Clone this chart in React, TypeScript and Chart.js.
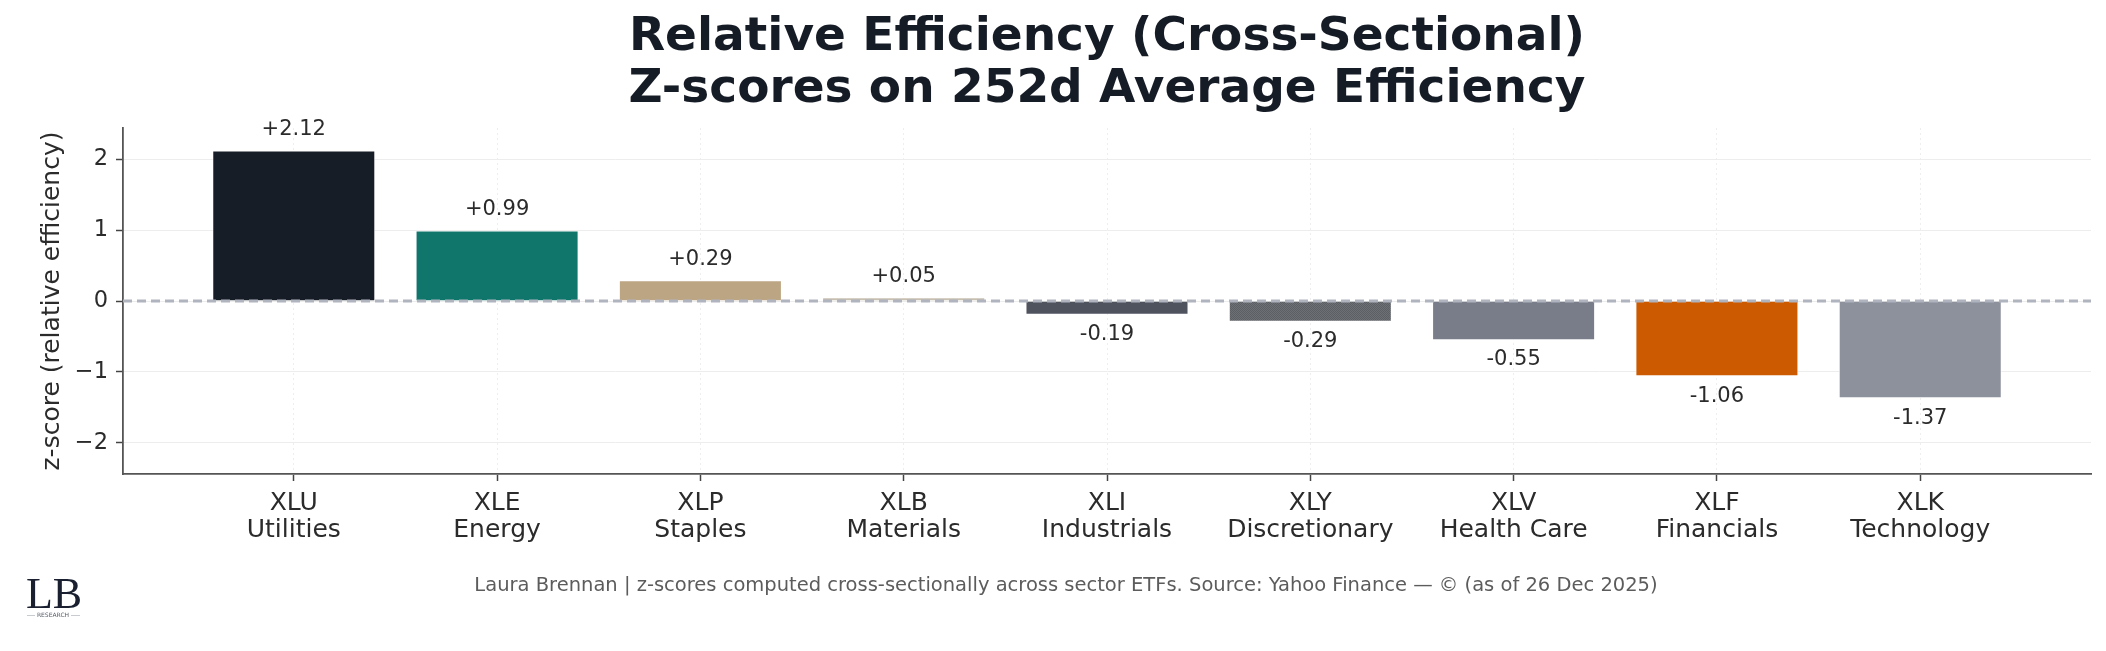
import { useEffect, useRef } from "react";
import { Chart, registerables } from "chart.js";

Chart.register(...registerables);

const tickers = ["XLU", "XLE", "XLP", "XLB", "XLI", "XLY", "XLV", "XLF", "XLK"];
const sectors = [
  "Utilities",
  "Energy",
  "Staples",
  "Materials",
  "Industrials",
  "Discretionary",
  "Health Care",
  "Financials",
  "Technology",
];
const zScores = [2.12, 0.99, 0.29, 0.05, -0.19, -0.29, -0.55, -1.06, -1.37];
const barColors = [
  "#171d26",
  "#10766c",
  "#bca582",
  "#c7bfb0",
  "#4f535e",
  "#67696f",
  "#797d89",
  "#cc5a00",
  "#8d919c",
];
const yTickValues = [-2, -1, 0, 1, 2];
const yLimit = 2.44;
const xPad = 0.84;

const titleLines = [
  "Relative Efficiency (Cross-Sectional)",
  "Z-scores on 252d Average Efficiency",
];
const yAxisTitle = "z-score (relative efficiency)";
const footerText =
  "Laura Brennan | z-scores computed cross-sectionally across sector ETFs. Source: Yahoo Finance \u2014 \u00a9 (as of 26 Dec 2025)";

const W = 2106;
const H = 651;

function makeStipple(): CanvasPattern | string {
  const c = document.createElement("canvas");
  c.width = 2;
  c.height = 2;
  const g = c.getContext("2d");
  if (!g) return "#67696f";
  g.fillStyle = "#6d7075";
  g.fillRect(0, 0, 2, 2);
  g.fillStyle = "#5c5f64";
  g.fillRect(0, 0, 1, 1);
  g.fillRect(1, 1, 1, 1);
  const p = g.createPattern(c, "repeat");
  return p || "#67696f";
}

const overlayPlugin = {
  id: "overlay",
  afterDatasetsDraw(chart: any) {
    const { ctx, chartArea, scales } = chart;
    const y0 = scales.y.getPixelForValue(0);
    ctx.save();
    ctx.strokeStyle = "#b0b4bf";
    ctx.lineWidth = 3;
    ctx.setLineDash([9, 5]);
    ctx.beginPath();
    ctx.moveTo(chartArea.left, y0);
    ctx.lineTo(chartArea.right, y0);
    ctx.stroke();
    ctx.setLineDash([]);

    const meta = chart.getDatasetMeta(0);
    ctx.font = '21px "DejaVu Sans"';
    ctx.fillStyle = "#2b2b2b";
    ctx.textAlign = "center";
    ctx.textBaseline = "middle";
    meta.data.forEach((bar: any, i: number) => {
      const v = zScores[i];
      const txt = (v >= 0 ? "+" : "-") + Math.abs(v).toFixed(2);
      const ty = v >= 0 ? bar.y - 21 : bar.y + 20;
      ctx.fillText(txt, bar.x, ty);
    });
    ctx.restore();
  },
  afterDraw(chart: any) {
    const { ctx, chartArea } = chart;
    ctx.save();
    const cx = (chartArea.left + chartArea.right) / 2;
    ctx.fillStyle = "#161c26";
    ctx.textAlign = "center";
    ctx.textBaseline = "alphabetic";
    ctx.font = 'bold 47px "DejaVu Sans"';
    ctx.fillText(titleLines[0], cx, 50);
    ctx.fillText(titleLines[1], cx, 102);

    ctx.font = '19.5px "DejaVu Sans"';
    ctx.fillStyle = "#5c5c5c";
    ctx.textBaseline = "middle";
    ctx.fillText(footerText, 1066, 586);

    // logo
    ctx.fillStyle = "#1a2030";
    ctx.textAlign = "center";
    ctx.textBaseline = "alphabetic";
    ctx.font = '44px "Liberation Serif"';
    ctx.fillText("LB", 54, 608);
    ctx.font = '6px "DejaVu Sans"';
    ctx.fillStyle = "#555b66";
    ctx.textBaseline = "middle";
    ctx.fillText("RESEARCH", 53, 615.5);
    ctx.strokeStyle = "#c8cbd0";
    ctx.lineWidth = 1;
    ctx.beginPath();
    ctx.moveTo(27, 615.5);
    ctx.lineTo(35, 615.5);
    ctx.moveTo(71, 615.5);
    ctx.lineTo(80, 615.5);
    ctx.stroke();
    ctx.restore();
  },
};

export default function App() {
  const ref = useRef<HTMLCanvasElement | null>(null);

  useEffect(() => {
    document.body.style.margin = "0";
    document.body.style.overflow = "hidden";
    const canvas = ref.current;
    if (!canvas) return;
    const colors = barColors.map((c, i) => (i === 5 ? makeStipple() : c));
    const chart = new Chart(canvas, {
      type: "bar",
      data: {
        datasets: [
          {
            data: zScores.map((v, i) => ({ x: i, y: v })),
            backgroundColor: colors as any,
            borderColor: "#ffffff",
            borderWidth: 0.8,
            barPercentage: 0.8,
            categoryPercentage: 1,
          },
        ],
      },
      options: {
        responsive: false,
        animation: false,
        devicePixelRatio: 1,
        layout: { padding: { top: 128, left: 0, right: 15, bottom: 0 } },
        plugins: {
          legend: { display: false },
          tooltip: { enabled: false },
          title: { display: false },
        },
        scales: {
          x: {
            type: "linear",
            min: -xPad,
            max: tickers.length - 1 + xPad,
            offset: false,
            afterBuildTicks: (s: any) => {
              s.ticks = tickers.map((_, i) => ({ value: i }));
            },
            afterFit: (s: any) => {
              s.height = 177;
            },
            grid: {
              offset: false,
              color: "#eeeeee",
              lineWidth: 1,
              tickColor: "#444",
              tickLength: 7,
              tickWidth: 1.5,
              tickBorderDash: [],
            },
            border: { display: true, color: "#555", width: 1.8, dash: [2, 3] },
            ticks: {
              autoSkip: false,
              maxRotation: 0,
              minRotation: 0,
              padding: 9,
              color: "#2b2b2b",
              font: { family: '"DejaVu Sans"', size: 25, lineHeight: 1.08 },
              callback: (v: any) => [tickers[v], sectors[v]],
            },
          },
          y: {
            min: -yLimit,
            max: yLimit,
            afterBuildTicks: (s: any) => {
              s.ticks = yTickValues.map((v) => ({ value: v }));
            },
            afterFit: (s: any) => {
              s.width = 123;
            },
            grid: {
              color: "#ededed",
              lineWidth: 1,
              tickColor: "#444",
              tickLength: 7,
              tickWidth: 1.5,
            },
            border: { display: true, color: "#555", width: 1.8 },
            ticks: {
              padding: 8,
              color: "#2b2b2b",
              font: { family: '"DejaVu Sans"', size: 22.5 },
              callback: (v: any) => (v < 0 ? "\u2212" + Math.abs(v) : String(v)),
            },
            title: {
              display: true,
              text: yAxisTitle,
              color: "#2b2b2b",
              font: { family: '"DejaVu Sans"', size: 25, lineHeight: 1.2 },
              padding: { top: 37, bottom: 0 },
            },
          },
        },
      },
      plugins: [overlayPlugin],
    });
    return () => chart.destroy();
  }, []);

  return (
    <div style={{ width: W, height: H, background: "#ffffff" }}>
      <canvas ref={ref} width={W} height={H} style={{ width: W, height: H, display: "block" }} />
    </div>
  );
}
